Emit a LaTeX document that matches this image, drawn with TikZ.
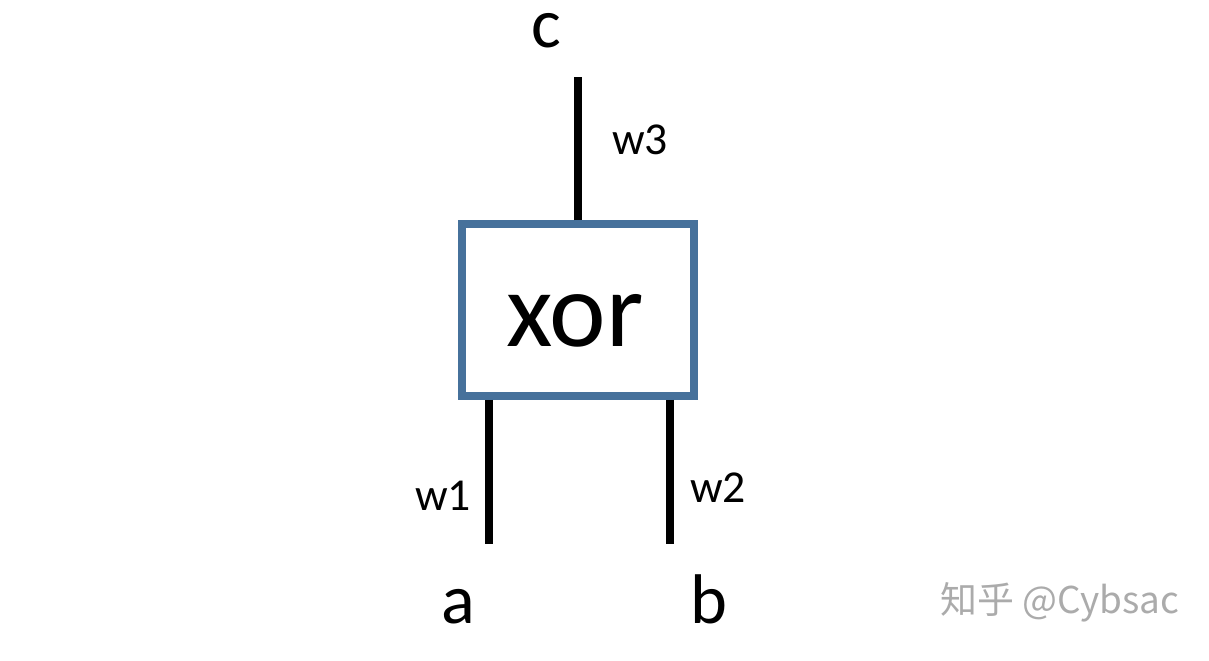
\documentclass[tikz,border=0pt]{standalone}
\usepackage{fontspec}
\setmainfont{Carlito}
\newfontfamily\cjkfont{Noto Sans CJK SC}
\usepackage{tikz}
\usetikzlibrary{calc,positioning}
\definecolor{gateblue}{RGB}{70,113,155}
\tikzstyle{gate}=[draw=gateblue,line width=0.15cm,minimum width=232*0.02cm,minimum height=172*0.02cm,inner sep=0pt]
\tikzstyle{wire}=[draw=black,line width=0.15cm]
\tikzstyle{port label}=[anchor=base,inner sep=0pt,font=\fontsize{40}{48}\selectfont]
\tikzstyle{wire label}=[anchor=base,inner sep=0pt,font=\fontsize{26}{31}\selectfont]

\begin{document}
\begin{tikzpicture}[x=0.02cm,y=-0.02cm]
  \useasboundingbox (0,0) rectangle (1209,660);
  \node[gate] (gate) at (578,310) {};
  \node[anchor=base,inner sep=0pt,font=\fontsize{61}{70}\selectfont] (gatename) at (575,346) {xor};

  \coordinate (wc) at (578,77);
  \coordinate (wa) at (489,544);
  \coordinate (wb) at (670,544);
  \draw[wire] (gate.north) -- (wc);
  \draw[wire] (gate.south -| wa) -- (wa);
  \draw[wire] (gate.south -| wb) -- (wb);

  \node[port label] (c) at (546,47) {c};
  \node[port label] (a) at (458,623) {a};
  \node[port label] (b) at (709,623) {b};

  \node[wire label] (w3) at (640,154) {w3};
  \node[wire label] (w1) at (443,510) {w1};
  \node[wire label] (w2) at (718,502) {w2};

  % watermark
  \node[anchor=base,inner sep=0pt,text=black!33,font=\cjkfont\fontsize{21}{25}\selectfont] (mark) at (1060,613) {知乎 @Cybsac};
\end{tikzpicture}
\end{document}
